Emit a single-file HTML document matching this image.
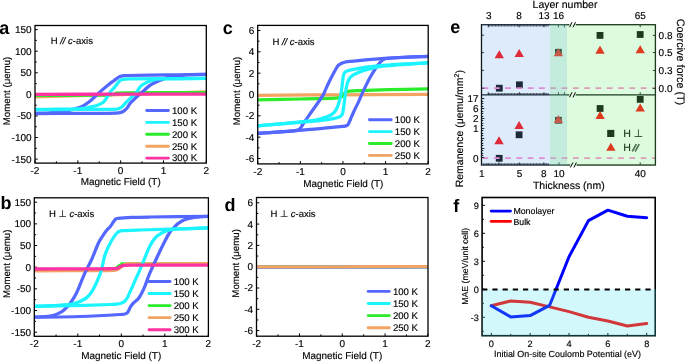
<!DOCTYPE html>
<html><head><meta charset="utf-8"><style>
html,body{margin:0;padding:0;background:#fff;width:685px;height:362px;overflow:hidden;}
svg{display:block;font-family:"Liberation Sans", sans-serif;text-rendering:geometricPrecision;will-change:transform;}
</style></head><body>
<svg width="685" height="362" viewBox="0 0 685 362" font-family='"Liberation Sans", sans-serif'>
<rect width="685" height="362" fill="#fff"/>
<clipPath id="clipa"><rect x="35" y="25.5" width="171.3" height="137.6"/></clipPath>
<line x1="35" y1="159.1" x2="37.8" y2="159.1" stroke="#000" stroke-width="1"/>
<line x1="35" y1="148.31" x2="36.8" y2="148.31" stroke="#000" stroke-width="1"/>
<line x1="35" y1="137.52" x2="37.8" y2="137.52" stroke="#000" stroke-width="1"/>
<line x1="35" y1="126.73" x2="36.8" y2="126.73" stroke="#000" stroke-width="1"/>
<line x1="35" y1="115.93" x2="37.8" y2="115.93" stroke="#000" stroke-width="1"/>
<line x1="35" y1="105.14" x2="36.8" y2="105.14" stroke="#000" stroke-width="1"/>
<line x1="35" y1="94.35" x2="37.8" y2="94.35" stroke="#000" stroke-width="1"/>
<line x1="35" y1="83.56" x2="36.8" y2="83.56" stroke="#000" stroke-width="1"/>
<line x1="35" y1="72.77" x2="37.8" y2="72.77" stroke="#000" stroke-width="1"/>
<line x1="35" y1="61.97" x2="36.8" y2="61.97" stroke="#000" stroke-width="1"/>
<line x1="35" y1="51.18" x2="37.8" y2="51.18" stroke="#000" stroke-width="1"/>
<line x1="35" y1="40.39" x2="36.8" y2="40.39" stroke="#000" stroke-width="1"/>
<line x1="35" y1="29.59" x2="37.8" y2="29.59" stroke="#000" stroke-width="1"/>
<line x1="34.99" y1="163.1" x2="34.99" y2="160.3" stroke="#000" stroke-width="1"/>
<line x1="56.41" y1="163.1" x2="56.41" y2="161.3" stroke="#000" stroke-width="1"/>
<line x1="77.82" y1="163.1" x2="77.82" y2="160.3" stroke="#000" stroke-width="1"/>
<line x1="99.24" y1="163.1" x2="99.24" y2="161.3" stroke="#000" stroke-width="1"/>
<line x1="120.65" y1="163.1" x2="120.65" y2="160.3" stroke="#000" stroke-width="1"/>
<line x1="142.06" y1="163.1" x2="142.06" y2="161.3" stroke="#000" stroke-width="1"/>
<line x1="163.48" y1="163.1" x2="163.48" y2="160.3" stroke="#000" stroke-width="1"/>
<line x1="184.9" y1="163.1" x2="184.9" y2="161.3" stroke="#000" stroke-width="1"/>
<line x1="206.31" y1="163.1" x2="206.31" y2="160.3" stroke="#000" stroke-width="1"/>
<g clip-path="url(#clipa)">
<path d="M34,96.8 C48.33,96.43 91.25,95.42 120,94.6 C148.75,93.78 192.08,92.35 206.5,91.9" fill="none" stroke="#f4a462" stroke-width="3.25" stroke-linejoin="round" stroke-linecap="round"/>
<path d="M34,95.4 C45,95.37 87.33,95.27 100,95.2 C112.67,95.13 107.67,95.15 110,95 C112.33,94.85 112.67,94.58 114,94.3 C115.33,94.02 116.33,93.53 118,93.3 C119.67,93.07 109.25,93.03 124,92.9 C138.75,92.77 192.75,92.57 206.5,92.5" fill="none" stroke="#2aec2a" stroke-width="3.25" stroke-linejoin="round" stroke-linecap="round"/>
<path d="M206.5,74.4 C202.08,74.47 189.42,74.67 180,74.8 C170.58,74.93 158.67,75.08 150,75.2 C141.33,75.32 132.5,75.4 128,75.5 C123.5,75.6 124.33,75.63 123,75.8 C121.67,75.97 121,76.08 120,76.5 C119,76.92 118.08,77.55 117,78.3 C115.92,79.05 114.67,80.12 113.5,81 C112.33,81.88 112.35,81.68 110,83.6 C107.65,85.52 102.7,89.6 99.4,92.5 C96.1,95.4 92.83,98.82 90.2,101 C87.57,103.18 85.57,104.47 83.6,105.6 C81.63,106.73 80.67,107.03 78.4,107.8 C76.13,108.57 73.07,109.52 70,110.2 C66.93,110.88 63.33,111.47 60,111.9 C56.67,112.33 54.33,112.57 50,112.8 C45.67,113.03 36.67,113.22 34,113.3" fill="none" stroke="#5467ff" stroke-width="3.25" stroke-linejoin="round" stroke-linecap="round"/>
<path d="M34,113.6 C38.33,113.58 49,113.55 60,113.5 C71,113.45 90.67,113.37 100,113.3 C109.33,113.23 112.58,113.23 116,113.1 C119.42,112.97 119.17,112.88 120.5,112.5 C121.83,112.12 122.83,111.63 124,110.8 C125.17,109.97 126.43,108.8 127.5,107.5 C128.57,106.2 128.98,104.67 130.4,103 C131.82,101.33 134.12,99.25 136,97.5 C137.88,95.75 139.38,94.52 141.7,92.5 C144.02,90.48 147.85,86.98 149.9,85.4 C151.95,83.82 152.65,83.7 154,83 C155.35,82.3 156.5,81.82 158,81.2 C159.5,80.58 161.33,80 163,79.3 C164.67,78.6 166,77.62 168,77 C170,76.38 172.17,75.93 175,75.6 C177.83,75.27 179.75,75.2 185,75 C190.25,74.8 202.92,74.5 206.5,74.4" fill="none" stroke="#5467ff" stroke-width="3.25" stroke-linejoin="round" stroke-linecap="round"/>
<path d="M206.5,78.3 C198.75,78.37 172.75,78.6 160,78.7 C147.25,78.8 135.92,78.83 130,78.9 C124.08,78.97 125.83,78.98 124.5,79.1 C123.17,79.22 122.75,79.35 122,79.6 C121.25,79.85 120.75,79.95 120,80.6 C119.25,81.25 118.58,82.18 117.5,83.5 C116.42,84.82 114.77,87 113.5,88.5 C112.23,90 111.38,90.42 109.9,92.5 C108.42,94.58 106.08,99.15 104.6,101 C103.12,102.85 102.08,102.93 101,103.6 C99.92,104.27 99.43,104.52 98.1,105 C96.77,105.48 94.68,106.07 93,106.5 C91.32,106.93 90.17,107.27 88,107.6 C85.83,107.93 84.67,108.23 80,108.5 C75.33,108.77 67.67,109.05 60,109.2 C52.33,109.35 38.33,109.37 34,109.4" fill="none" stroke="#1cf4ff" stroke-width="3.25" stroke-linejoin="round" stroke-linecap="round"/>
<path d="M34,109.7 C41.67,109.67 66.83,109.57 80,109.5 C93.17,109.43 106.75,109.38 113,109.3 C119.25,109.22 116.25,109.23 117.5,109 C118.75,108.77 119.58,108.43 120.5,107.9 C121.42,107.37 122.07,106.72 123,105.8 C123.93,104.88 124.77,103.77 126.1,102.4 C127.43,101.03 129.47,99 131,97.6 C132.53,96.2 133.73,95.85 135.3,94 C136.87,92.15 138.87,88.23 140.4,86.5 C141.93,84.77 143.13,84.43 144.5,83.6 C145.87,82.77 147.02,82.13 148.6,81.5 C150.18,80.87 151.93,80.23 154,79.8 C156.07,79.37 152.25,79.15 161,78.9 C169.75,78.65 198.92,78.4 206.5,78.3" fill="none" stroke="#1cf4ff" stroke-width="3.25" stroke-linejoin="round" stroke-linecap="round"/>
<path d="M34,94.3 C48.33,94.28 91.25,94.23 120,94.2 C148.75,94.17 192.08,94.12 206.5,94.1" fill="none" stroke="#fc33a0" stroke-width="3.3" stroke-linejoin="round" stroke-linecap="round"/>
</g>
<rect x="35" y="25.5" width="171.3" height="137.6" fill="none" stroke="#000" stroke-width="1.3"/>
<text x="31.6" y="162.55" font-size="10" text-anchor="end" stroke="#000" stroke-width="0.15" fill="#000">-150</text>
<text x="31.6" y="140.97" font-size="10" text-anchor="end" stroke="#000" stroke-width="0.15" fill="#000">-100</text>
<text x="31.6" y="119.38" font-size="10" text-anchor="end" stroke="#000" stroke-width="0.15" fill="#000">-50</text>
<text x="31.6" y="97.8" font-size="10" text-anchor="end" stroke="#000" stroke-width="0.15" fill="#000">0</text>
<text x="31.6" y="76.22" font-size="10" text-anchor="end" stroke="#000" stroke-width="0.15" fill="#000">50</text>
<text x="31.6" y="54.63" font-size="10" text-anchor="end" stroke="#000" stroke-width="0.15" fill="#000">100</text>
<text x="31.6" y="33.05" font-size="10" text-anchor="end" stroke="#000" stroke-width="0.15" fill="#000">150</text>
<text x="34.99" y="173.7" font-size="10" text-anchor="middle" stroke="#000" stroke-width="0.15" fill="#000">-2</text>
<text x="77.82" y="173.7" font-size="10" text-anchor="middle" stroke="#000" stroke-width="0.15" fill="#000">-1</text>
<text x="120.65" y="173.7" font-size="10" text-anchor="middle" stroke="#000" stroke-width="0.15" fill="#000">0</text>
<text x="163.48" y="173.7" font-size="10" text-anchor="middle" stroke="#000" stroke-width="0.15" fill="#000">1</text>
<text x="206.31" y="173.7" font-size="10" text-anchor="middle" stroke="#000" stroke-width="0.15" fill="#000">2</text>
<text x="120.7" y="185.2" font-size="9.95" text-anchor="middle" stroke="#000" stroke-width="0.15" fill="#000">Magnetic Field (T)</text>
<text x="10.2" y="91" font-size="9.7" text-anchor="middle" stroke="#000" stroke-width="0.15" transform="rotate(-90 10.2 91)" fill="#000">Moment (&#956;emu)</text>
<text x="-0.8" y="33.8" font-size="18" text-anchor="start" font-weight="bold" fill="#000">a</text>
<text x="50.7" y="43.8" font-size="9.5" text-anchor="start" stroke="#000" stroke-width="0.15" fill="#000">H <tspan font-style="italic">//</tspan> <tspan font-style="italic">c</tspan>-axis</text>
<line x1="146.7" y1="110.5" x2="168.4" y2="110.5" stroke="#5467ff" stroke-width="2.9" stroke-linecap="round"/>
<text x="172" y="113.8" font-size="9.6" text-anchor="start" stroke="#000" stroke-width="0.15" fill="#000">100 K</text>
<line x1="146.7" y1="122.4" x2="168.4" y2="122.4" stroke="#1cf4ff" stroke-width="2.9" stroke-linecap="round"/>
<text x="172" y="125.7" font-size="9.6" text-anchor="start" stroke="#000" stroke-width="0.15" fill="#000">150 K</text>
<line x1="146.7" y1="134.3" x2="168.4" y2="134.3" stroke="#2aec2a" stroke-width="2.9" stroke-linecap="round"/>
<text x="172" y="137.6" font-size="9.6" text-anchor="start" stroke="#000" stroke-width="0.15" fill="#000">200 K</text>
<line x1="146.7" y1="146.2" x2="168.4" y2="146.2" stroke="#f4a462" stroke-width="2.9" stroke-linecap="round"/>
<text x="172" y="149.5" font-size="9.6" text-anchor="start" stroke="#000" stroke-width="0.15" fill="#000">250 K</text>
<line x1="146.7" y1="158.1" x2="168.4" y2="158.1" stroke="#fc33a0" stroke-width="2.9" stroke-linecap="round"/>
<text x="172" y="161.4" font-size="9.6" text-anchor="start" stroke="#000" stroke-width="0.15" fill="#000">300 K</text>
<clipPath id="clipb"><rect x="34.3" y="197.8" width="174.1" height="138.5"/></clipPath>
<line x1="34.3" y1="332.19" x2="37.1" y2="332.19" stroke="#000" stroke-width="1"/>
<line x1="34.3" y1="321.36" x2="36.1" y2="321.36" stroke="#000" stroke-width="1"/>
<line x1="34.3" y1="310.53" x2="37.1" y2="310.53" stroke="#000" stroke-width="1"/>
<line x1="34.3" y1="299.7" x2="36.1" y2="299.7" stroke="#000" stroke-width="1"/>
<line x1="34.3" y1="288.87" x2="37.1" y2="288.87" stroke="#000" stroke-width="1"/>
<line x1="34.3" y1="278.03" x2="36.1" y2="278.03" stroke="#000" stroke-width="1"/>
<line x1="34.3" y1="267.2" x2="37.1" y2="267.2" stroke="#000" stroke-width="1"/>
<line x1="34.3" y1="256.37" x2="36.1" y2="256.37" stroke="#000" stroke-width="1"/>
<line x1="34.3" y1="245.53" x2="37.1" y2="245.53" stroke="#000" stroke-width="1"/>
<line x1="34.3" y1="234.7" x2="36.1" y2="234.7" stroke="#000" stroke-width="1"/>
<line x1="34.3" y1="223.87" x2="37.1" y2="223.87" stroke="#000" stroke-width="1"/>
<line x1="34.3" y1="213.04" x2="36.1" y2="213.04" stroke="#000" stroke-width="1"/>
<line x1="34.3" y1="202.2" x2="37.1" y2="202.2" stroke="#000" stroke-width="1"/>
<line x1="34.3" y1="336.3" x2="34.3" y2="333.5" stroke="#000" stroke-width="1"/>
<line x1="56.05" y1="336.3" x2="56.05" y2="334.5" stroke="#000" stroke-width="1"/>
<line x1="77.8" y1="336.3" x2="77.8" y2="333.5" stroke="#000" stroke-width="1"/>
<line x1="99.55" y1="336.3" x2="99.55" y2="334.5" stroke="#000" stroke-width="1"/>
<line x1="121.3" y1="336.3" x2="121.3" y2="333.5" stroke="#000" stroke-width="1"/>
<line x1="143.05" y1="336.3" x2="143.05" y2="334.5" stroke="#000" stroke-width="1"/>
<line x1="164.8" y1="336.3" x2="164.8" y2="333.5" stroke="#000" stroke-width="1"/>
<line x1="186.55" y1="336.3" x2="186.55" y2="334.5" stroke="#000" stroke-width="1"/>
<line x1="208.3" y1="336.3" x2="208.3" y2="333.5" stroke="#000" stroke-width="1"/>
<g clip-path="url(#clipb)">
<path d="M34,269.8 C45,269.77 87,269.67 100,269.6 C113,269.53 109.42,269.57 112,269.4 C114.58,269.23 114.25,269.27 115.5,268.6 C116.75,267.93 118.25,266.17 119.5,265.4 C120.75,264.63 121.25,264.27 123,264 C124.75,263.73 115.75,263.82 130,263.8 C144.25,263.78 195.42,263.88 208.5,263.9" fill="none" stroke="#2aec2a" stroke-width="3.25" stroke-linejoin="round" stroke-linecap="round"/>
<path d="M34,270.8 C45,270.77 86.67,270.68 100,270.6 C113.33,270.52 111,270.5 114,270.3 C117,270.1 116.67,270.05 118,269.4 C119.33,268.75 120.75,267.25 122,266.4 C123.25,265.55 123.33,264.72 125.5,264.3 C127.67,263.88 121.17,264 135,263.9 C148.83,263.8 196.25,263.73 208.5,263.7" fill="none" stroke="#f4a462" stroke-width="3.25" stroke-linejoin="round" stroke-linecap="round"/>
<path d="M208.5,216.3 C198.75,216.42 162.82,216.82 150,217 C137.18,217.18 136.93,217.18 131.6,217.4 C126.27,217.62 120.68,218 118,218.3 C115.32,218.6 116.33,218.5 115.5,219.2 C114.67,219.9 113.85,221.28 113,222.5 C112.15,223.72 111.52,225.13 110.4,226.5 C109.28,227.87 107.7,228.95 106.3,230.7 C104.9,232.45 103.38,234.78 102,237 C100.62,239.22 99.77,240.17 98,244 C96.23,247.83 93.62,255.12 91.4,260 C89.18,264.88 87.2,267.77 84.7,273.3 C82.2,278.83 78.85,288.17 76.4,293.2 C73.95,298.23 72.07,300.7 70,303.5 C67.93,306.3 65.97,308.32 64,310 C62.03,311.68 60.53,312.6 58.2,313.6 C55.87,314.6 54.03,315.4 50,316 C45.97,316.6 36.67,317 34,317.2" fill="none" stroke="#5467ff" stroke-width="3.25" stroke-linejoin="round" stroke-linecap="round"/>
<path d="M34,317.2 C41.67,317.08 65.67,316.95 80,316.5 C94.33,316.05 112.33,314.98 120,314.5 C127.67,314.02 124.62,314.12 126,313.6 C127.38,313.08 127.52,312.6 128.3,311.4 C129.08,310.2 129.75,307.88 130.7,306.4 C131.65,304.92 132.75,303.75 134,302.5 C135.25,301.25 136.95,300.4 138.2,298.9 C139.45,297.4 140.4,295.57 141.5,293.5 C142.6,291.43 143.42,289.88 144.8,286.5 C146.18,283.12 147.58,278.45 149.8,273.2 C152.02,267.95 155.62,260.28 158.1,255 C160.58,249.72 162.72,245.33 164.7,241.5 C166.68,237.67 168.45,234.33 170,232 C171.55,229.67 172.67,228.9 174,227.5 C175.33,226.1 176.67,224.68 178,223.6 C179.33,222.52 180.67,221.72 182,221 C183.33,220.28 184.33,219.83 186,219.3 C187.67,218.77 189.67,218.18 192,217.8 C194.33,217.42 197.25,217.25 200,217 C202.75,216.75 207.08,216.42 208.5,216.3" fill="none" stroke="#5467ff" stroke-width="3.25" stroke-linejoin="round" stroke-linecap="round"/>
<path d="M208.5,227.9 C202.08,228.12 181.42,228.85 170,229.2 C158.58,229.55 147.83,229.77 140,230 C132.17,230.23 126.42,230.38 123,230.6 C119.58,230.82 120.5,230.9 119.5,231.3 C118.5,231.7 118.1,231.8 117,233 C115.9,234.2 114.32,236.25 112.9,238.5 C111.48,240.75 109.88,243.58 108.5,246.5 C107.12,249.42 105.62,252.75 104.6,256 C103.58,259.25 103.2,262.85 102.4,266 C101.6,269.15 101.37,270.93 99.8,274.9 C98.23,278.87 94.88,286.32 93,289.8 C91.12,293.28 89.88,294.27 88.5,295.8 C87.12,297.33 86.45,297.92 84.7,299 C82.95,300.08 80.45,301.42 78,302.3 C75.55,303.18 74.4,303.75 70,304.3 C65.6,304.85 57.6,305.27 51.6,305.6 C45.6,305.93 36.93,306.18 34,306.3" fill="none" stroke="#1cf4ff" stroke-width="3.25" stroke-linejoin="round" stroke-linecap="round"/>
<path d="M34,306.3 C40.5,306.18 60.33,305.9 73,305.6 C85.67,305.3 102.67,304.75 110,304.5 C117.33,304.25 115.17,304.3 117,304.1 C118.83,303.9 119.75,303.73 121,303.3 C122.25,302.87 123.42,302.47 124.5,301.5 C125.58,300.53 126.58,299.08 127.5,297.5 C128.42,295.92 129.05,294.12 130,292 C130.95,289.88 131.55,288.48 133.2,284.8 C134.85,281.12 137.97,274.37 139.9,269.9 C141.83,265.43 143.45,261.32 144.8,258 C146.15,254.68 146.88,252.48 148,250 C149.12,247.52 150.17,245.27 151.5,243.1 C152.83,240.93 154.35,238.65 156,237 C157.65,235.35 159.12,234.38 161.4,233.2 C163.68,232.02 165.77,230.63 169.7,229.9 C173.63,229.17 178.53,229.13 185,228.8 C191.47,228.47 204.58,228.05 208.5,227.9" fill="none" stroke="#1cf4ff" stroke-width="3.25" stroke-linejoin="round" stroke-linecap="round"/>
<path d="M34,269 C45,268.97 86.67,268.85 100,268.8 C113.33,268.75 111.08,268.8 114,268.7 C116.92,268.6 116.33,268.6 117.5,268.2 C118.67,267.8 119.92,266.77 121,266.3 C122.08,265.83 121.67,265.58 124,265.4 C126.33,265.22 120.92,265.25 135,265.2 C149.08,265.15 196.25,265.12 208.5,265.1" fill="none" stroke="#fc33a0" stroke-width="3.3" stroke-linejoin="round" stroke-linecap="round"/>
</g>
<rect x="34.3" y="197.8" width="174.1" height="138.5" fill="none" stroke="#000" stroke-width="1.3"/>
<text x="31.1" y="335.64" font-size="10" text-anchor="end" stroke="#000" stroke-width="0.15" fill="#000">-150</text>
<text x="31.1" y="313.98" font-size="10" text-anchor="end" stroke="#000" stroke-width="0.15" fill="#000">-100</text>
<text x="31.1" y="292.31" font-size="10" text-anchor="end" stroke="#000" stroke-width="0.15" fill="#000">-50</text>
<text x="31.1" y="270.65" font-size="10" text-anchor="end" stroke="#000" stroke-width="0.15" fill="#000">0</text>
<text x="31.1" y="248.98" font-size="10" text-anchor="end" stroke="#000" stroke-width="0.15" fill="#000">50</text>
<text x="31.1" y="227.32" font-size="10" text-anchor="end" stroke="#000" stroke-width="0.15" fill="#000">100</text>
<text x="31.1" y="205.65" font-size="10" text-anchor="end" stroke="#000" stroke-width="0.15" fill="#000">150</text>
<text x="34.3" y="347" font-size="10" text-anchor="middle" stroke="#000" stroke-width="0.15" fill="#000">-2</text>
<text x="77.8" y="347" font-size="10" text-anchor="middle" stroke="#000" stroke-width="0.15" fill="#000">-1</text>
<text x="121.3" y="347" font-size="10" text-anchor="middle" stroke="#000" stroke-width="0.15" fill="#000">0</text>
<text x="164.8" y="347" font-size="10" text-anchor="middle" stroke="#000" stroke-width="0.15" fill="#000">1</text>
<text x="208.3" y="347" font-size="10" text-anchor="middle" stroke="#000" stroke-width="0.15" fill="#000">2</text>
<text x="121.2" y="359" font-size="9.95" text-anchor="middle" stroke="#000" stroke-width="0.15" fill="#000">Magnetic Field (T)</text>
<text x="10" y="263.8" font-size="9.7" text-anchor="middle" stroke="#000" stroke-width="0.15" transform="rotate(-90 10 263.8)" fill="#000">Moment (&#956;emu)</text>
<text x="0.5" y="208.8" font-size="18" text-anchor="start" font-weight="bold" fill="#000">b</text>
<text x="49" y="216.9" font-size="9.5" text-anchor="start" stroke="#000" stroke-width="0.15" fill="#000">H &#8869; <tspan font-style="italic">c</tspan>-axis</text>
<line x1="149" y1="281.5" x2="170.1" y2="281.5" stroke="#5467ff" stroke-width="2.9" stroke-linecap="round"/>
<text x="173.7" y="284.8" font-size="9.6" text-anchor="start" stroke="#000" stroke-width="0.15" fill="#000">100 K</text>
<line x1="149" y1="293.55" x2="170.1" y2="293.55" stroke="#1cf4ff" stroke-width="2.9" stroke-linecap="round"/>
<text x="173.7" y="296.85" font-size="9.6" text-anchor="start" stroke="#000" stroke-width="0.15" fill="#000">150 K</text>
<line x1="149" y1="305.6" x2="170.1" y2="305.6" stroke="#2aec2a" stroke-width="2.9" stroke-linecap="round"/>
<text x="173.7" y="308.9" font-size="9.6" text-anchor="start" stroke="#000" stroke-width="0.15" fill="#000">200 K</text>
<line x1="149" y1="317.65" x2="170.1" y2="317.65" stroke="#f4a462" stroke-width="2.9" stroke-linecap="round"/>
<text x="173.7" y="320.95" font-size="9.6" text-anchor="start" stroke="#000" stroke-width="0.15" fill="#000">250 K</text>
<line x1="149" y1="329.7" x2="170.1" y2="329.7" stroke="#fc33a0" stroke-width="2.9" stroke-linecap="round"/>
<text x="173.7" y="333" font-size="9.6" text-anchor="start" stroke="#000" stroke-width="0.15" fill="#000">300 K</text>
<clipPath id="clipc"><rect x="257.7" y="25.4" width="170.5" height="138.5"/></clipPath>
<line x1="257.7" y1="158.5" x2="260.5" y2="158.5" stroke="#000" stroke-width="1"/>
<line x1="257.7" y1="147.84" x2="259.5" y2="147.84" stroke="#000" stroke-width="1"/>
<line x1="257.7" y1="137.17" x2="260.5" y2="137.17" stroke="#000" stroke-width="1"/>
<line x1="257.7" y1="126.5" x2="259.5" y2="126.5" stroke="#000" stroke-width="1"/>
<line x1="257.7" y1="115.83" x2="260.5" y2="115.83" stroke="#000" stroke-width="1"/>
<line x1="257.7" y1="105.17" x2="259.5" y2="105.17" stroke="#000" stroke-width="1"/>
<line x1="257.7" y1="94.5" x2="260.5" y2="94.5" stroke="#000" stroke-width="1"/>
<line x1="257.7" y1="83.83" x2="259.5" y2="83.83" stroke="#000" stroke-width="1"/>
<line x1="257.7" y1="73.17" x2="260.5" y2="73.17" stroke="#000" stroke-width="1"/>
<line x1="257.7" y1="62.5" x2="259.5" y2="62.5" stroke="#000" stroke-width="1"/>
<line x1="257.7" y1="51.83" x2="260.5" y2="51.83" stroke="#000" stroke-width="1"/>
<line x1="257.7" y1="41.16" x2="259.5" y2="41.16" stroke="#000" stroke-width="1"/>
<line x1="257.7" y1="30.5" x2="260.5" y2="30.5" stroke="#000" stroke-width="1"/>
<line x1="257.75" y1="163.9" x2="257.75" y2="161.1" stroke="#000" stroke-width="1"/>
<line x1="279.05" y1="163.9" x2="279.05" y2="162.1" stroke="#000" stroke-width="1"/>
<line x1="300.35" y1="163.9" x2="300.35" y2="161.1" stroke="#000" stroke-width="1"/>
<line x1="321.65" y1="163.9" x2="321.65" y2="162.1" stroke="#000" stroke-width="1"/>
<line x1="342.95" y1="163.9" x2="342.95" y2="161.1" stroke="#000" stroke-width="1"/>
<line x1="364.25" y1="163.9" x2="364.25" y2="162.1" stroke="#000" stroke-width="1"/>
<line x1="385.55" y1="163.9" x2="385.55" y2="161.1" stroke="#000" stroke-width="1"/>
<line x1="406.85" y1="163.9" x2="406.85" y2="162.1" stroke="#000" stroke-width="1"/>
<line x1="428.15" y1="163.9" x2="428.15" y2="161.1" stroke="#000" stroke-width="1"/>
<g clip-path="url(#clipc)">
<path d="M257,95.3 C271.17,95.22 313.42,94.95 342,94.8 C370.58,94.65 414.08,94.47 428.5,94.4" fill="none" stroke="#f4a462" stroke-width="3.25" stroke-linejoin="round" stroke-linecap="round"/>
<path d="M257,99.8 C264.17,99.67 287.33,99.25 300,99 C312.67,98.75 326.42,98.53 333,98.3 C339.58,98.07 337.92,97.93 339.5,97.6 C341.08,97.27 341.62,97.07 342.5,96.3 C343.38,95.53 343.88,93.83 344.8,93 C345.72,92.17 345.47,91.7 348,91.3 C350.53,90.9 353,90.87 360,90.6 C367,90.33 378.58,90 390,89.7 C401.42,89.4 422.08,88.95 428.5,88.8" fill="none" stroke="#2aec2a" stroke-width="3.25" stroke-linejoin="round" stroke-linecap="round"/>
<path d="M428.5,56.3 C421.2,56.63 397.78,57.45 384.7,58.3 C371.62,59.15 356.62,60.75 350,61.4 C343.38,62.05 346.38,61.9 345,62.2 C343.62,62.5 342.83,62.65 341.7,63.2 C340.57,63.75 339.17,64.53 338.2,65.5 C337.23,66.47 336.87,67.35 335.9,69 C334.93,70.65 333.57,73.18 332.4,75.4 C331.23,77.62 329.97,80.08 328.9,82.3 C327.83,84.52 326.87,86.77 326,88.7 C325.13,90.63 324.62,92.18 323.7,93.9 C322.78,95.62 321.78,97.07 320.5,99 C319.22,100.93 317.58,103.25 316,105.5 C314.42,107.75 312.67,110.13 311,112.5 C309.33,114.87 307.42,117.62 306,119.7 C304.58,121.78 303.42,123.62 302.5,125 C301.58,126.38 301.17,127.2 300.5,128 C299.83,128.8 299.58,129.33 298.5,129.8 C297.42,130.27 297.08,130.45 294,130.8 C290.92,131.15 286.17,131.48 280,131.9 C273.83,132.32 260.83,133.07 257,133.3" fill="none" stroke="#5467ff" stroke-width="3.25" stroke-linejoin="round" stroke-linecap="round"/>
<path d="M257,133.3 C262.5,132.93 279.5,131.88 290,131.1 C300.5,130.32 311.17,129.38 320,128.6 C328.83,127.82 338.67,126.87 343,126.4 C347.33,125.93 345.13,126.15 346,125.8 C346.87,125.45 347.43,125.43 348.2,124.3 C348.97,123.17 349.58,121.3 350.6,119 C351.62,116.7 353.02,113.27 354.3,110.5 C355.58,107.73 357.05,105.1 358.3,102.4 C359.55,99.7 360.53,97.1 361.8,94.3 C363.07,91.5 364.62,88.23 365.9,85.6 C367.18,82.97 368.32,80.68 369.5,78.5 C370.68,76.32 371.83,74.42 373,72.5 C374.17,70.58 375.33,68.67 376.5,67 C377.67,65.33 378.92,63.7 380,62.5 C381.08,61.3 381.83,60.47 383,59.8 C384.17,59.13 384.17,58.88 387,58.5 C389.83,58.12 393.08,57.87 400,57.5 C406.92,57.13 423.75,56.5 428.5,56.3" fill="none" stroke="#5467ff" stroke-width="3.25" stroke-linejoin="round" stroke-linecap="round"/>
<path d="M428.5,62.7 C423.13,62.97 405.22,63.72 396.3,64.3 C387.38,64.88 380.52,65.65 375,66.2 C369.48,66.75 367.2,66.98 363.2,67.6 C359.2,68.22 353.7,69.33 351,69.9 C348.3,70.47 348.08,70.52 347,71 C345.92,71.48 345.13,71.88 344.5,72.8 C343.87,73.72 343.57,74.63 343.2,76.5 C342.83,78.37 342.63,81.25 342.3,84 C341.97,86.75 341.65,90.27 341.2,93 C340.75,95.73 340.27,97.98 339.6,100.4 C338.93,102.82 338.1,105.52 337.2,107.5 C336.3,109.48 335.4,110.97 334.2,112.3 C333,113.63 331.87,114.55 330,115.5 C328.13,116.45 326.33,117.12 323,118 C319.67,118.88 321,119.48 310,120.8 C299,122.12 265.83,125.05 257,125.9" fill="none" stroke="#1cf4ff" stroke-width="3.25" stroke-linejoin="round" stroke-linecap="round"/>
<path d="M257,125.9 C265.65,125.18 296.67,122.72 308.9,121.6 C321.13,120.48 325.72,119.83 330.4,119.2 C335.08,118.57 335.32,118.28 337,117.8 C338.68,117.32 339.57,117.02 340.5,116.3 C341.43,115.58 342.05,115.22 342.6,113.5 C343.15,111.78 343.43,108.48 343.8,106 C344.17,103.52 344.43,101.35 344.8,98.6 C345.17,95.85 345.58,92.02 346,89.5 C346.42,86.98 346.72,85.35 347.3,83.5 C347.88,81.65 348.72,79.68 349.5,78.4 C350.28,77.12 351.08,76.53 352,75.8 C352.92,75.07 353.13,74.87 355,74 C356.87,73.13 360.18,71.58 363.2,70.6 C366.22,69.62 369.47,68.87 373.1,68.1 C376.73,67.33 375.77,66.88 385,66 C394.23,65.12 421.25,63.33 428.5,62.8" fill="none" stroke="#1cf4ff" stroke-width="3.25" stroke-linejoin="round" stroke-linecap="round"/>
</g>
<rect x="257.7" y="25.4" width="170.5" height="138.5" fill="none" stroke="#000" stroke-width="1.3"/>
<text x="254.4" y="161.95" font-size="10" text-anchor="end" stroke="#000" stroke-width="0.15" fill="#000">-6</text>
<text x="254.4" y="140.62" font-size="10" text-anchor="end" stroke="#000" stroke-width="0.15" fill="#000">-4</text>
<text x="254.4" y="119.28" font-size="10" text-anchor="end" stroke="#000" stroke-width="0.15" fill="#000">-2</text>
<text x="254.4" y="97.95" font-size="10" text-anchor="end" stroke="#000" stroke-width="0.15" fill="#000">0</text>
<text x="254.4" y="76.62" font-size="10" text-anchor="end" stroke="#000" stroke-width="0.15" fill="#000">2</text>
<text x="254.4" y="55.28" font-size="10" text-anchor="end" stroke="#000" stroke-width="0.15" fill="#000">4</text>
<text x="254.4" y="33.95" font-size="10" text-anchor="end" stroke="#000" stroke-width="0.15" fill="#000">6</text>
<text x="257.75" y="174.5" font-size="10" text-anchor="middle" stroke="#000" stroke-width="0.15" fill="#000">-2</text>
<text x="300.35" y="174.5" font-size="10" text-anchor="middle" stroke="#000" stroke-width="0.15" fill="#000">-1</text>
<text x="342.95" y="174.5" font-size="10" text-anchor="middle" stroke="#000" stroke-width="0.15" fill="#000">0</text>
<text x="385.55" y="174.5" font-size="10" text-anchor="middle" stroke="#000" stroke-width="0.15" fill="#000">1</text>
<text x="428.15" y="174.5" font-size="10" text-anchor="middle" stroke="#000" stroke-width="0.15" fill="#000">2</text>
<text x="343.3" y="186.8" font-size="9.95" text-anchor="middle" stroke="#000" stroke-width="0.15" fill="#000">Magnetic Field (T)</text>
<text x="239.7" y="91" font-size="9.7" text-anchor="middle" stroke="#000" stroke-width="0.15" transform="rotate(-90 239.7 91)" fill="#000">Moment (&#956;emu)</text>
<text x="222.8" y="34" font-size="18" text-anchor="start" font-weight="bold" fill="#000">c</text>
<text x="272.4" y="44.9" font-size="9.5" text-anchor="start" stroke="#000" stroke-width="0.15" fill="#000">H <tspan font-style="italic">//</tspan> <tspan font-style="italic">c</tspan>-axis</text>
<line x1="369.4" y1="119.7" x2="391.2" y2="119.7" stroke="#5467ff" stroke-width="2.9" stroke-linecap="round"/>
<text x="394.8" y="123" font-size="9.6" text-anchor="start" stroke="#000" stroke-width="0.15" fill="#000">100 K</text>
<line x1="369.4" y1="131.6" x2="391.2" y2="131.6" stroke="#1cf4ff" stroke-width="2.9" stroke-linecap="round"/>
<text x="394.8" y="134.9" font-size="9.6" text-anchor="start" stroke="#000" stroke-width="0.15" fill="#000">150 K</text>
<line x1="369.4" y1="143.5" x2="391.2" y2="143.5" stroke="#2aec2a" stroke-width="2.9" stroke-linecap="round"/>
<text x="394.8" y="146.8" font-size="9.6" text-anchor="start" stroke="#000" stroke-width="0.15" fill="#000">200 K</text>
<line x1="369.4" y1="155.4" x2="391.2" y2="155.4" stroke="#f4a462" stroke-width="2.9" stroke-linecap="round"/>
<text x="394.8" y="158.7" font-size="9.6" text-anchor="start" stroke="#000" stroke-width="0.15" fill="#000">250 K</text>
<clipPath id="clipd"><rect x="256.5" y="197.5" width="171.5" height="138.7"/></clipPath>
<line x1="256.5" y1="330.6" x2="259.3" y2="330.6" stroke="#000" stroke-width="1"/>
<line x1="256.5" y1="319.95" x2="258.3" y2="319.95" stroke="#000" stroke-width="1"/>
<line x1="256.5" y1="309.3" x2="259.3" y2="309.3" stroke="#000" stroke-width="1"/>
<line x1="256.5" y1="298.65" x2="258.3" y2="298.65" stroke="#000" stroke-width="1"/>
<line x1="256.5" y1="288" x2="259.3" y2="288" stroke="#000" stroke-width="1"/>
<line x1="256.5" y1="277.35" x2="258.3" y2="277.35" stroke="#000" stroke-width="1"/>
<line x1="256.5" y1="266.7" x2="259.3" y2="266.7" stroke="#000" stroke-width="1"/>
<line x1="256.5" y1="256.05" x2="258.3" y2="256.05" stroke="#000" stroke-width="1"/>
<line x1="256.5" y1="245.4" x2="259.3" y2="245.4" stroke="#000" stroke-width="1"/>
<line x1="256.5" y1="234.75" x2="258.3" y2="234.75" stroke="#000" stroke-width="1"/>
<line x1="256.5" y1="224.1" x2="259.3" y2="224.1" stroke="#000" stroke-width="1"/>
<line x1="256.5" y1="213.45" x2="258.3" y2="213.45" stroke="#000" stroke-width="1"/>
<line x1="256.5" y1="202.8" x2="259.3" y2="202.8" stroke="#000" stroke-width="1"/>
<line x1="256.65" y1="336.2" x2="256.65" y2="333.4" stroke="#000" stroke-width="1"/>
<line x1="278.05" y1="336.2" x2="278.05" y2="334.4" stroke="#000" stroke-width="1"/>
<line x1="299.45" y1="336.2" x2="299.45" y2="333.4" stroke="#000" stroke-width="1"/>
<line x1="320.85" y1="336.2" x2="320.85" y2="334.4" stroke="#000" stroke-width="1"/>
<line x1="342.25" y1="336.2" x2="342.25" y2="333.4" stroke="#000" stroke-width="1"/>
<line x1="363.65" y1="336.2" x2="363.65" y2="334.4" stroke="#000" stroke-width="1"/>
<line x1="385.05" y1="336.2" x2="385.05" y2="333.4" stroke="#000" stroke-width="1"/>
<line x1="406.45" y1="336.2" x2="406.45" y2="334.4" stroke="#000" stroke-width="1"/>
<line x1="427.85" y1="336.2" x2="427.85" y2="333.4" stroke="#000" stroke-width="1"/>
<g clip-path="url(#clipd)">
<path d="M256,266.9 L428.5,266.7" fill="none" stroke="#2aec2a" stroke-width="3.25" stroke-linejoin="round" stroke-linecap="round"/>
<path d="M256,267.1 L428.5,266.9" fill="none" stroke="#1cf4ff" stroke-width="3.25" stroke-linejoin="round" stroke-linecap="round"/>
<path d="M256,267.1 L428.5,266.9" fill="none" stroke="#5467ff" stroke-width="3.25" stroke-linejoin="round" stroke-linecap="round"/>
<path d="M256,266.8 C270,266.8 311.25,266.83 340,266.8 C368.75,266.77 413.75,266.63 428.5,266.6" fill="none" stroke="#f4a462" stroke-width="3.25" stroke-linejoin="round" stroke-linecap="round"/>
</g>
<rect x="256.5" y="197.5" width="171.5" height="138.7" fill="none" stroke="#000" stroke-width="1.3"/>
<text x="253.1" y="334.05" font-size="10" text-anchor="end" stroke="#000" stroke-width="0.15" fill="#000">-6</text>
<text x="253.1" y="312.75" font-size="10" text-anchor="end" stroke="#000" stroke-width="0.15" fill="#000">-4</text>
<text x="253.1" y="291.45" font-size="10" text-anchor="end" stroke="#000" stroke-width="0.15" fill="#000">-2</text>
<text x="253.1" y="270.15" font-size="10" text-anchor="end" stroke="#000" stroke-width="0.15" fill="#000">0</text>
<text x="253.1" y="248.85" font-size="10" text-anchor="end" stroke="#000" stroke-width="0.15" fill="#000">2</text>
<text x="253.1" y="227.55" font-size="10" text-anchor="end" stroke="#000" stroke-width="0.15" fill="#000">4</text>
<text x="253.1" y="206.25" font-size="10" text-anchor="end" stroke="#000" stroke-width="0.15" fill="#000">6</text>
<text x="256.65" y="346.8" font-size="10" text-anchor="middle" stroke="#000" stroke-width="0.15" fill="#000">-2</text>
<text x="299.45" y="346.8" font-size="10" text-anchor="middle" stroke="#000" stroke-width="0.15" fill="#000">-1</text>
<text x="342.25" y="346.8" font-size="10" text-anchor="middle" stroke="#000" stroke-width="0.15" fill="#000">0</text>
<text x="385.05" y="346.8" font-size="10" text-anchor="middle" stroke="#000" stroke-width="0.15" fill="#000">1</text>
<text x="427.85" y="346.8" font-size="10" text-anchor="middle" stroke="#000" stroke-width="0.15" fill="#000">2</text>
<text x="342.2" y="359" font-size="9.95" text-anchor="middle" stroke="#000" stroke-width="0.15" fill="#000">Magnetic Field (T)</text>
<text x="239.2" y="263.4" font-size="9.7" text-anchor="middle" stroke="#000" stroke-width="0.15" transform="rotate(-90 239.2 263.4)" fill="#000">Moment (&#956;emu)</text>
<text x="224.4" y="211.1" font-size="18" text-anchor="start" font-weight="bold" fill="#000">d</text>
<text x="270.4" y="216.9" font-size="9.5" text-anchor="start" stroke="#000" stroke-width="0.15" fill="#000">H &#8869; <tspan font-style="italic">c</tspan>-axis</text>
<line x1="368.2" y1="291.4" x2="389.3" y2="291.4" stroke="#5467ff" stroke-width="2.9" stroke-linecap="round"/>
<text x="392.9" y="294.7" font-size="9.6" text-anchor="start" stroke="#000" stroke-width="0.15" fill="#000">100 K</text>
<line x1="368.2" y1="303.5" x2="389.3" y2="303.5" stroke="#1cf4ff" stroke-width="2.9" stroke-linecap="round"/>
<text x="392.9" y="306.8" font-size="9.6" text-anchor="start" stroke="#000" stroke-width="0.15" fill="#000">150 K</text>
<line x1="368.2" y1="315.6" x2="389.3" y2="315.6" stroke="#2aec2a" stroke-width="2.9" stroke-linecap="round"/>
<text x="392.9" y="318.9" font-size="9.6" text-anchor="start" stroke="#000" stroke-width="0.15" fill="#000">200 K</text>
<line x1="368.2" y1="327.7" x2="389.3" y2="327.7" stroke="#f4a462" stroke-width="2.9" stroke-linecap="round"/>
<text x="392.9" y="331" font-size="9.6" text-anchor="start" stroke="#000" stroke-width="0.15" fill="#000">250 K</text>
<rect x="495.9" y="84.8" width="6.8" height="6.8" fill="#000" stroke="none" stroke-width="1"/>
<rect x="516" y="81.4" width="6.8" height="6.8" fill="#000" stroke="none" stroke-width="1"/>
<rect x="555" y="48.9" width="6.8" height="6.8" fill="#000" stroke="none" stroke-width="1"/>
<rect x="596.6" y="32" width="6.8" height="6.8" fill="#000" stroke="none" stroke-width="1"/>
<rect x="636.8" y="31.1" width="6.8" height="6.8" fill="#000" stroke="none" stroke-width="1"/>
<polygon points="499.3,50.2 494.6,58.2 504,58.2" fill="#ff0000"/>
<polygon points="519.2,49.1 514.5,57.1 523.9,57.1" fill="#ff0000"/>
<polygon points="558.4,48.3 553.7,56.3 563.1,56.3" fill="#ff0000"/>
<polygon points="600,45.7 595.3,53.7 604.7,53.7" fill="#ff0000"/>
<polygon points="640.2,45.2 635.5,53.2 644.9,53.2" fill="#ff0000"/>
<rect x="495.8" y="154.9" width="6.8" height="6.8" fill="#000" stroke="none" stroke-width="1"/>
<rect x="515.7" y="131.4" width="6.8" height="6.8" fill="#000" stroke="none" stroke-width="1"/>
<rect x="555" y="116.9" width="6.8" height="6.8" fill="#000" stroke="none" stroke-width="1"/>
<rect x="596.7" y="105.1" width="6.8" height="6.8" fill="#000" stroke="none" stroke-width="1"/>
<rect x="636.8" y="95.95" width="6.8" height="6.8" fill="#000" stroke="none" stroke-width="1"/>
<polygon points="499,136.3 494.3,144.3 503.7,144.3" fill="#ff0000"/>
<polygon points="519.1,121.1 514.4,129.1 523.8,129.1" fill="#ff0000"/>
<polygon points="558.4,115.1 553.7,123.1 563.1,123.1" fill="#ff0000"/>
<polygon points="600.1,110.9 595.4,118.9 604.8,118.9" fill="#ff0000"/>
<polygon points="640.2,103.6 635.5,111.6 644.9,111.6" fill="#ff0000"/>
<line x1="482.5" y1="88.2" x2="655.4" y2="88.2" stroke="rgb(255,130,208)" stroke-width="1.75" stroke-dasharray="5.8 5.5"/>
<line x1="482.5" y1="158.1" x2="655.4" y2="158.1" stroke="rgb(255,130,208)" stroke-width="1.75" stroke-dasharray="5.8 5.5"/>
<rect x="481.5" y="24.7" width="173.9" height="140.3" fill="none" stroke="#000" stroke-width="1.3"/>
<line x1="481.5" y1="94.8" x2="655.4" y2="94.8" stroke="#000" stroke-width="1.3"/>
<line x1="488.3" y1="24.7" x2="488.3" y2="26.5" stroke="#000" stroke-width="0.8"/>
<line x1="488.3" y1="94.8" x2="488.3" y2="93" stroke="#000" stroke-width="0.8"/>
<line x1="488.3" y1="165" x2="488.3" y2="163.2" stroke="#000" stroke-width="0.8"/>
<line x1="489.76" y1="24.7" x2="489.76" y2="26.5" stroke="#000" stroke-width="0.8"/>
<line x1="489.76" y1="94.8" x2="489.76" y2="93" stroke="#000" stroke-width="0.8"/>
<line x1="489.76" y1="165" x2="489.76" y2="163.2" stroke="#000" stroke-width="0.8"/>
<line x1="491.22" y1="24.7" x2="491.22" y2="26.5" stroke="#000" stroke-width="0.8"/>
<line x1="491.22" y1="94.8" x2="491.22" y2="93" stroke="#000" stroke-width="0.8"/>
<line x1="491.22" y1="165" x2="491.22" y2="163.2" stroke="#000" stroke-width="0.8"/>
<line x1="492.68" y1="24.7" x2="492.68" y2="26.5" stroke="#000" stroke-width="0.8"/>
<line x1="492.68" y1="94.8" x2="492.68" y2="93" stroke="#000" stroke-width="0.8"/>
<line x1="492.68" y1="165" x2="492.68" y2="163.2" stroke="#000" stroke-width="0.8"/>
<line x1="494.14" y1="24.7" x2="494.14" y2="26.5" stroke="#000" stroke-width="0.8"/>
<line x1="494.14" y1="94.8" x2="494.14" y2="93" stroke="#000" stroke-width="0.8"/>
<line x1="494.14" y1="165" x2="494.14" y2="163.2" stroke="#000" stroke-width="0.8"/>
<line x1="495.6" y1="24.7" x2="495.6" y2="26.5" stroke="#000" stroke-width="0.8"/>
<line x1="495.6" y1="94.8" x2="495.6" y2="93" stroke="#000" stroke-width="0.8"/>
<line x1="495.6" y1="165" x2="495.6" y2="163.2" stroke="#000" stroke-width="0.8"/>
<line x1="497.06" y1="24.7" x2="497.06" y2="26.5" stroke="#000" stroke-width="0.8"/>
<line x1="497.06" y1="94.8" x2="497.06" y2="93" stroke="#000" stroke-width="0.8"/>
<line x1="497.06" y1="165" x2="497.06" y2="163.2" stroke="#000" stroke-width="0.8"/>
<line x1="498.52" y1="24.7" x2="498.52" y2="26.5" stroke="#000" stroke-width="0.8"/>
<line x1="498.52" y1="94.8" x2="498.52" y2="93" stroke="#000" stroke-width="0.8"/>
<line x1="498.52" y1="165" x2="498.52" y2="163.2" stroke="#000" stroke-width="0.8"/>
<line x1="499.98" y1="24.7" x2="499.98" y2="26.5" stroke="#000" stroke-width="0.8"/>
<line x1="499.98" y1="94.8" x2="499.98" y2="93" stroke="#000" stroke-width="0.8"/>
<line x1="499.98" y1="165" x2="499.98" y2="163.2" stroke="#000" stroke-width="0.8"/>
<line x1="501.44" y1="24.7" x2="501.44" y2="26.5" stroke="#000" stroke-width="0.8"/>
<line x1="501.44" y1="94.8" x2="501.44" y2="93" stroke="#000" stroke-width="0.8"/>
<line x1="501.44" y1="165" x2="501.44" y2="163.2" stroke="#000" stroke-width="0.8"/>
<line x1="502.9" y1="24.7" x2="502.9" y2="26.5" stroke="#000" stroke-width="0.8"/>
<line x1="502.9" y1="94.8" x2="502.9" y2="93" stroke="#000" stroke-width="0.8"/>
<line x1="502.9" y1="165" x2="502.9" y2="163.2" stroke="#000" stroke-width="0.8"/>
<line x1="504.36" y1="24.7" x2="504.36" y2="26.5" stroke="#000" stroke-width="0.8"/>
<line x1="504.36" y1="94.8" x2="504.36" y2="93" stroke="#000" stroke-width="0.8"/>
<line x1="504.36" y1="165" x2="504.36" y2="163.2" stroke="#000" stroke-width="0.8"/>
<line x1="505.82" y1="24.7" x2="505.82" y2="26.5" stroke="#000" stroke-width="0.8"/>
<line x1="505.82" y1="94.8" x2="505.82" y2="93" stroke="#000" stroke-width="0.8"/>
<line x1="505.82" y1="165" x2="505.82" y2="163.2" stroke="#000" stroke-width="0.8"/>
<line x1="507.28" y1="24.7" x2="507.28" y2="26.5" stroke="#000" stroke-width="0.8"/>
<line x1="507.28" y1="94.8" x2="507.28" y2="93" stroke="#000" stroke-width="0.8"/>
<line x1="507.28" y1="165" x2="507.28" y2="163.2" stroke="#000" stroke-width="0.8"/>
<line x1="508.74" y1="24.7" x2="508.74" y2="26.5" stroke="#000" stroke-width="0.8"/>
<line x1="508.74" y1="94.8" x2="508.74" y2="93" stroke="#000" stroke-width="0.8"/>
<line x1="508.74" y1="165" x2="508.74" y2="163.2" stroke="#000" stroke-width="0.8"/>
<line x1="510.2" y1="24.7" x2="510.2" y2="26.5" stroke="#000" stroke-width="0.8"/>
<line x1="510.2" y1="94.8" x2="510.2" y2="93" stroke="#000" stroke-width="0.8"/>
<line x1="510.2" y1="165" x2="510.2" y2="163.2" stroke="#000" stroke-width="0.8"/>
<line x1="511.66" y1="24.7" x2="511.66" y2="26.5" stroke="#000" stroke-width="0.8"/>
<line x1="511.66" y1="94.8" x2="511.66" y2="93" stroke="#000" stroke-width="0.8"/>
<line x1="511.66" y1="165" x2="511.66" y2="163.2" stroke="#000" stroke-width="0.8"/>
<line x1="513.12" y1="24.7" x2="513.12" y2="26.5" stroke="#000" stroke-width="0.8"/>
<line x1="513.12" y1="94.8" x2="513.12" y2="93" stroke="#000" stroke-width="0.8"/>
<line x1="513.12" y1="165" x2="513.12" y2="163.2" stroke="#000" stroke-width="0.8"/>
<line x1="514.58" y1="24.7" x2="514.58" y2="26.5" stroke="#000" stroke-width="0.8"/>
<line x1="514.58" y1="94.8" x2="514.58" y2="93" stroke="#000" stroke-width="0.8"/>
<line x1="514.58" y1="165" x2="514.58" y2="163.2" stroke="#000" stroke-width="0.8"/>
<line x1="516.04" y1="24.7" x2="516.04" y2="26.5" stroke="#000" stroke-width="0.8"/>
<line x1="516.04" y1="94.8" x2="516.04" y2="93" stroke="#000" stroke-width="0.8"/>
<line x1="516.04" y1="165" x2="516.04" y2="163.2" stroke="#000" stroke-width="0.8"/>
<line x1="517.5" y1="24.7" x2="517.5" y2="26.5" stroke="#000" stroke-width="0.8"/>
<line x1="517.5" y1="94.8" x2="517.5" y2="93" stroke="#000" stroke-width="0.8"/>
<line x1="517.5" y1="165" x2="517.5" y2="163.2" stroke="#000" stroke-width="0.8"/>
<line x1="518.96" y1="24.7" x2="518.96" y2="26.5" stroke="#000" stroke-width="0.8"/>
<line x1="518.96" y1="94.8" x2="518.96" y2="93" stroke="#000" stroke-width="0.8"/>
<line x1="518.96" y1="165" x2="518.96" y2="163.2" stroke="#000" stroke-width="0.8"/>
<line x1="520.42" y1="24.7" x2="520.42" y2="26.5" stroke="#000" stroke-width="0.8"/>
<line x1="520.42" y1="94.8" x2="520.42" y2="93" stroke="#000" stroke-width="0.8"/>
<line x1="520.42" y1="165" x2="520.42" y2="163.2" stroke="#000" stroke-width="0.8"/>
<line x1="521.88" y1="24.7" x2="521.88" y2="26.5" stroke="#000" stroke-width="0.8"/>
<line x1="521.88" y1="94.8" x2="521.88" y2="93" stroke="#000" stroke-width="0.8"/>
<line x1="521.88" y1="165" x2="521.88" y2="163.2" stroke="#000" stroke-width="0.8"/>
<line x1="523.34" y1="24.7" x2="523.34" y2="26.5" stroke="#000" stroke-width="0.8"/>
<line x1="523.34" y1="94.8" x2="523.34" y2="93" stroke="#000" stroke-width="0.8"/>
<line x1="523.34" y1="165" x2="523.34" y2="163.2" stroke="#000" stroke-width="0.8"/>
<line x1="524.8" y1="24.7" x2="524.8" y2="26.5" stroke="#000" stroke-width="0.8"/>
<line x1="524.8" y1="94.8" x2="524.8" y2="93" stroke="#000" stroke-width="0.8"/>
<line x1="524.8" y1="165" x2="524.8" y2="163.2" stroke="#000" stroke-width="0.8"/>
<line x1="526.26" y1="24.7" x2="526.26" y2="26.5" stroke="#000" stroke-width="0.8"/>
<line x1="526.26" y1="94.8" x2="526.26" y2="93" stroke="#000" stroke-width="0.8"/>
<line x1="526.26" y1="165" x2="526.26" y2="163.2" stroke="#000" stroke-width="0.8"/>
<line x1="527.72" y1="24.7" x2="527.72" y2="26.5" stroke="#000" stroke-width="0.8"/>
<line x1="527.72" y1="94.8" x2="527.72" y2="93" stroke="#000" stroke-width="0.8"/>
<line x1="527.72" y1="165" x2="527.72" y2="163.2" stroke="#000" stroke-width="0.8"/>
<line x1="529.18" y1="24.7" x2="529.18" y2="26.5" stroke="#000" stroke-width="0.8"/>
<line x1="529.18" y1="94.8" x2="529.18" y2="93" stroke="#000" stroke-width="0.8"/>
<line x1="529.18" y1="165" x2="529.18" y2="163.2" stroke="#000" stroke-width="0.8"/>
<line x1="530.64" y1="24.7" x2="530.64" y2="26.5" stroke="#000" stroke-width="0.8"/>
<line x1="530.64" y1="94.8" x2="530.64" y2="93" stroke="#000" stroke-width="0.8"/>
<line x1="530.64" y1="165" x2="530.64" y2="163.2" stroke="#000" stroke-width="0.8"/>
<line x1="532.1" y1="24.7" x2="532.1" y2="26.5" stroke="#000" stroke-width="0.8"/>
<line x1="532.1" y1="94.8" x2="532.1" y2="93" stroke="#000" stroke-width="0.8"/>
<line x1="532.1" y1="165" x2="532.1" y2="163.2" stroke="#000" stroke-width="0.8"/>
<line x1="533.56" y1="24.7" x2="533.56" y2="26.5" stroke="#000" stroke-width="0.8"/>
<line x1="533.56" y1="94.8" x2="533.56" y2="93" stroke="#000" stroke-width="0.8"/>
<line x1="533.56" y1="165" x2="533.56" y2="163.2" stroke="#000" stroke-width="0.8"/>
<line x1="535.02" y1="24.7" x2="535.02" y2="26.5" stroke="#000" stroke-width="0.8"/>
<line x1="535.02" y1="94.8" x2="535.02" y2="93" stroke="#000" stroke-width="0.8"/>
<line x1="535.02" y1="165" x2="535.02" y2="163.2" stroke="#000" stroke-width="0.8"/>
<line x1="536.48" y1="24.7" x2="536.48" y2="26.5" stroke="#000" stroke-width="0.8"/>
<line x1="536.48" y1="94.8" x2="536.48" y2="93" stroke="#000" stroke-width="0.8"/>
<line x1="536.48" y1="165" x2="536.48" y2="163.2" stroke="#000" stroke-width="0.8"/>
<line x1="537.94" y1="24.7" x2="537.94" y2="26.5" stroke="#000" stroke-width="0.8"/>
<line x1="537.94" y1="94.8" x2="537.94" y2="93" stroke="#000" stroke-width="0.8"/>
<line x1="537.94" y1="165" x2="537.94" y2="163.2" stroke="#000" stroke-width="0.8"/>
<line x1="539.4" y1="24.7" x2="539.4" y2="26.5" stroke="#000" stroke-width="0.8"/>
<line x1="539.4" y1="94.8" x2="539.4" y2="93" stroke="#000" stroke-width="0.8"/>
<line x1="539.4" y1="165" x2="539.4" y2="163.2" stroke="#000" stroke-width="0.8"/>
<line x1="540.86" y1="24.7" x2="540.86" y2="26.5" stroke="#000" stroke-width="0.8"/>
<line x1="540.86" y1="94.8" x2="540.86" y2="93" stroke="#000" stroke-width="0.8"/>
<line x1="540.86" y1="165" x2="540.86" y2="163.2" stroke="#000" stroke-width="0.8"/>
<line x1="542.32" y1="24.7" x2="542.32" y2="26.5" stroke="#000" stroke-width="0.8"/>
<line x1="542.32" y1="94.8" x2="542.32" y2="93" stroke="#000" stroke-width="0.8"/>
<line x1="542.32" y1="165" x2="542.32" y2="163.2" stroke="#000" stroke-width="0.8"/>
<line x1="543.78" y1="24.7" x2="543.78" y2="26.5" stroke="#000" stroke-width="0.8"/>
<line x1="543.78" y1="94.8" x2="543.78" y2="93" stroke="#000" stroke-width="0.8"/>
<line x1="543.78" y1="165" x2="543.78" y2="163.2" stroke="#000" stroke-width="0.8"/>
<line x1="545.24" y1="24.7" x2="545.24" y2="26.5" stroke="#000" stroke-width="0.8"/>
<line x1="545.24" y1="94.8" x2="545.24" y2="93" stroke="#000" stroke-width="0.8"/>
<line x1="545.24" y1="165" x2="545.24" y2="163.2" stroke="#000" stroke-width="0.8"/>
<line x1="546.7" y1="24.7" x2="546.7" y2="26.5" stroke="#000" stroke-width="0.8"/>
<line x1="546.7" y1="94.8" x2="546.7" y2="93" stroke="#000" stroke-width="0.8"/>
<line x1="546.7" y1="165" x2="546.7" y2="163.2" stroke="#000" stroke-width="0.8"/>
<line x1="548.16" y1="24.7" x2="548.16" y2="26.5" stroke="#000" stroke-width="0.8"/>
<line x1="548.16" y1="94.8" x2="548.16" y2="93" stroke="#000" stroke-width="0.8"/>
<line x1="548.16" y1="165" x2="548.16" y2="163.2" stroke="#000" stroke-width="0.8"/>
<line x1="483.5" y1="165" x2="483.5" y2="163.2" stroke="#000" stroke-width="0.8"/>
<line x1="484.96" y1="165" x2="484.96" y2="163.2" stroke="#000" stroke-width="0.8"/>
<line x1="486.42" y1="165" x2="486.42" y2="163.2" stroke="#000" stroke-width="0.8"/>
<line x1="487.88" y1="165" x2="487.88" y2="163.2" stroke="#000" stroke-width="0.8"/>
<line x1="488.4" y1="24.7" x2="488.4" y2="27.3" stroke="#000" stroke-width="0.9"/>
<line x1="519.2" y1="24.7" x2="519.2" y2="27.3" stroke="#000" stroke-width="0.9"/>
<line x1="544" y1="24.7" x2="544" y2="27.3" stroke="#000" stroke-width="0.9"/>
<line x1="558.4" y1="24.7" x2="558.4" y2="27.3" stroke="#000" stroke-width="0.9"/>
<line x1="564.4" y1="24.7" x2="564.4" y2="27.3" stroke="#000" stroke-width="0.9"/>
<line x1="640.2" y1="24.7" x2="640.2" y2="27.3" stroke="#000" stroke-width="0.9"/>
<line x1="488.3" y1="94.8" x2="488.3" y2="92.2" stroke="#000" stroke-width="0.9"/>
<line x1="519.4" y1="94.8" x2="519.4" y2="92.2" stroke="#000" stroke-width="0.9"/>
<line x1="544" y1="94.8" x2="544" y2="92.2" stroke="#000" stroke-width="0.9"/>
<line x1="558.4" y1="94.8" x2="558.4" y2="92.2" stroke="#000" stroke-width="0.9"/>
<line x1="564.4" y1="94.8" x2="564.4" y2="92.2" stroke="#000" stroke-width="0.9"/>
<line x1="640.2" y1="94.8" x2="640.2" y2="92.2" stroke="#000" stroke-width="0.9"/>
<line x1="499.1" y1="165" x2="499.1" y2="162.4" stroke="#000" stroke-width="0.9"/>
<line x1="519.3" y1="165" x2="519.3" y2="162.4" stroke="#000" stroke-width="0.9"/>
<line x1="543.9" y1="165" x2="543.9" y2="162.4" stroke="#000" stroke-width="0.9"/>
<line x1="559" y1="165" x2="559" y2="162.4" stroke="#000" stroke-width="0.9"/>
<line x1="640.2" y1="165" x2="640.2" y2="162.4" stroke="#000" stroke-width="0.9"/>
<line x1="481.5" y1="35.2" x2="484.1" y2="35.2" stroke="#000" stroke-width="0.9"/>
<line x1="481.5" y1="52.6" x2="484.1" y2="52.6" stroke="#000" stroke-width="0.9"/>
<line x1="481.5" y1="70.4" x2="484.1" y2="70.4" stroke="#000" stroke-width="0.9"/>
<line x1="481.5" y1="88.2" x2="484.1" y2="88.2" stroke="#000" stroke-width="0.9"/>
<line x1="481.5" y1="98.5" x2="484.3" y2="98.5" stroke="#000" stroke-width="1"/>
<line x1="481.5" y1="101.5" x2="483.3" y2="101.5" stroke="#000" stroke-width="1"/>
<line x1="481.5" y1="103.5" x2="483.3" y2="103.5" stroke="#000" stroke-width="1"/>
<line x1="481.5" y1="106.5" x2="483.3" y2="106.5" stroke="#000" stroke-width="1"/>
<line x1="481.5" y1="108.5" x2="484.3" y2="108.5" stroke="#000" stroke-width="1"/>
<line x1="481.5" y1="111.5" x2="483.3" y2="111.5" stroke="#000" stroke-width="1"/>
<line x1="481.5" y1="113.5" x2="483.3" y2="113.5" stroke="#000" stroke-width="1"/>
<line x1="481.5" y1="116.5" x2="483.3" y2="116.5" stroke="#000" stroke-width="1"/>
<line x1="481.5" y1="118.5" x2="484.3" y2="118.5" stroke="#000" stroke-width="1"/>
<line x1="481.5" y1="120.5" x2="483.3" y2="120.5" stroke="#000" stroke-width="1"/>
<line x1="481.5" y1="123.5" x2="483.3" y2="123.5" stroke="#000" stroke-width="1"/>
<line x1="481.5" y1="125.5" x2="483.3" y2="125.5" stroke="#000" stroke-width="1"/>
<line x1="481.5" y1="128.5" x2="484.3" y2="128.5" stroke="#000" stroke-width="1"/>
<line x1="481.5" y1="130.5" x2="483.3" y2="130.5" stroke="#000" stroke-width="1"/>
<line x1="481.5" y1="133.5" x2="483.3" y2="133.5" stroke="#000" stroke-width="1"/>
<line x1="481.5" y1="135.5" x2="483.3" y2="135.5" stroke="#000" stroke-width="1"/>
<line x1="481.5" y1="138.5" x2="484.3" y2="138.5" stroke="#000" stroke-width="1"/>
<line x1="481.5" y1="140.5" x2="483.3" y2="140.5" stroke="#000" stroke-width="1"/>
<line x1="481.5" y1="143.5" x2="483.3" y2="143.5" stroke="#000" stroke-width="1"/>
<line x1="481.5" y1="145.5" x2="483.3" y2="145.5" stroke="#000" stroke-width="1"/>
<line x1="481.5" y1="148.5" x2="484.3" y2="148.5" stroke="#000" stroke-width="1"/>
<line x1="481.5" y1="150.5" x2="483.3" y2="150.5" stroke="#000" stroke-width="1"/>
<line x1="481.5" y1="153.5" x2="483.3" y2="153.5" stroke="#000" stroke-width="1"/>
<line x1="481.5" y1="155.5" x2="483.3" y2="155.5" stroke="#000" stroke-width="1"/>
<line x1="481.5" y1="157.5" x2="484.3" y2="157.5" stroke="#000" stroke-width="1"/>
<line x1="655.4" y1="35.4" x2="652.8" y2="35.4" stroke="#000" stroke-width="0.9"/>
<line x1="655.4" y1="52.5" x2="652.8" y2="52.5" stroke="#000" stroke-width="0.9"/>
<line x1="655.4" y1="70.5" x2="652.8" y2="70.5" stroke="#000" stroke-width="0.9"/>
<line x1="655.4" y1="88.4" x2="652.8" y2="88.4" stroke="#000" stroke-width="0.9"/>
<rect x="607.2" y="129.9" width="7.1" height="7.1" fill="#000" stroke="none" stroke-width="1"/>
<polygon points="610.85,142.8 606.2,150.7 615.5,150.7" fill="#ff0000"/>
<text x="623.2" y="137" font-size="10.6" text-anchor="start" stroke="#000" stroke-width="0.15" fill="#000">H &#8869;</text>
<text x="623.2" y="151.2" font-size="10.6" text-anchor="start" stroke="#000" stroke-width="0.15" fill="#000">H</text>
<line x1="632.3" y1="151.3" x2="636.3" y2="144.2" stroke="#000" stroke-width="1.5"/>
<line x1="632.3" y1="151.3" x2="636.3" y2="144.2" stroke="#cfe9cf" stroke-width="0.5"/>
<line x1="635.2" y1="151.3" x2="639.2" y2="144.2" stroke="#000" stroke-width="1.5"/>
<line x1="635.2" y1="151.3" x2="639.2" y2="144.2" stroke="#cfe9cf" stroke-width="0.5"/>
<rect x="481.5" y="24" width="85.5" height="141.7" fill="rgb(118,171,237)" stroke="none" stroke-width="1" fill-opacity="0.245"/>
<rect x="550" y="24" width="106.1" height="141.7" fill="rgb(114,237,122)" stroke="none" stroke-width="1" fill-opacity="0.245"/>
<rect x="569.3" y="23.5" width="6.4" height="2.4" fill="#e4fbe4" stroke="none" stroke-width="1"/>
<line x1="569.5" y1="27.2" x2="572" y2="22.2" stroke="#000" stroke-width="1"/>
<line x1="573" y1="27.2" x2="575.5" y2="22.2" stroke="#000" stroke-width="1"/>
<rect x="569.3" y="93.6" width="6.4" height="2.4" fill="#e4fbe4" stroke="none" stroke-width="1"/>
<line x1="569.5" y1="97.3" x2="572" y2="92.3" stroke="#000" stroke-width="1"/>
<line x1="573" y1="97.3" x2="575.5" y2="92.3" stroke="#000" stroke-width="1"/>
<rect x="570.2" y="163.8" width="6.4" height="2.4" fill="#e4fbe4" stroke="none" stroke-width="1"/>
<line x1="570.4" y1="167.5" x2="572.9" y2="162.5" stroke="#000" stroke-width="1"/>
<line x1="573.9" y1="167.5" x2="576.4" y2="162.5" stroke="#000" stroke-width="1"/>
<text x="450.2" y="33.2" font-size="18" text-anchor="start" font-weight="bold" fill="#000">e</text>
<text x="488.7" y="18.9" font-size="10" text-anchor="middle" stroke="#000" stroke-width="0.15" fill="#000">3</text>
<text x="519.1" y="18.9" font-size="10" text-anchor="middle" stroke="#000" stroke-width="0.15" fill="#000">8</text>
<text x="544" y="18.9" font-size="10" text-anchor="middle" stroke="#000" stroke-width="0.15" fill="#000">13</text>
<text x="558.6" y="18.9" font-size="10" text-anchor="middle" stroke="#000" stroke-width="0.15" fill="#000">16</text>
<text x="640.2" y="18.9" font-size="10" text-anchor="middle" stroke="#000" stroke-width="0.15" fill="#000">65</text>
<text x="565" y="8.3" font-size="10.5" text-anchor="middle" stroke="#000" stroke-width="0.15" fill="#000">Layer number</text>
<text x="658.6" y="38.85" font-size="10" text-anchor="start" stroke="#000" stroke-width="0.15" fill="#000">0.8</text>
<text x="658.6" y="55.95" font-size="10" text-anchor="start" stroke="#000" stroke-width="0.15" fill="#000">0.5</text>
<text x="658.6" y="73.95" font-size="10" text-anchor="start" stroke="#000" stroke-width="0.15" fill="#000">0.3</text>
<text x="658.6" y="91.85" font-size="10" text-anchor="start" stroke="#000" stroke-width="0.15" fill="#000">0.0</text>
<text x="677" y="62" font-size="10.8" text-anchor="middle" stroke="#000" stroke-width="0.15" transform="rotate(90 677 62)" fill="#000">Coercive force (T)</text>
<text x="478.6" y="101.75" font-size="10" text-anchor="end" stroke="#000" stroke-width="0.15" fill="#000">17</text>
<text x="478.6" y="111.65" font-size="10" text-anchor="end" stroke="#000" stroke-width="0.15" fill="#000">6</text>
<text x="478.6" y="121.65" font-size="10" text-anchor="end" stroke="#000" stroke-width="0.15" fill="#000">2</text>
<text x="478.6" y="131.55" font-size="10" text-anchor="end" stroke="#000" stroke-width="0.15" fill="#000">1</text>
<text x="478.6" y="161.55" font-size="10" text-anchor="end" stroke="#000" stroke-width="0.15" fill="#000">0</text>
<text x="481.7" y="176.6" font-size="10" text-anchor="middle" stroke="#000" stroke-width="0.15" fill="#000">1</text>
<text x="519.6" y="176.6" font-size="10" text-anchor="middle" stroke="#000" stroke-width="0.15" fill="#000">5</text>
<text x="543.9" y="176.6" font-size="10" text-anchor="middle" stroke="#000" stroke-width="0.15" fill="#000">8</text>
<text x="559" y="176.6" font-size="10" text-anchor="middle" stroke="#000" stroke-width="0.15" fill="#000">10</text>
<text x="640.2" y="176.6" font-size="10" text-anchor="middle" stroke="#000" stroke-width="0.15" fill="#000">40</text>
<text x="568.8" y="189.3" font-size="10.5" text-anchor="middle" stroke="#000" stroke-width="0.15" fill="#000">Thickness (nm)</text>
<text x="463.4" y="128.7" font-size="10.5" text-anchor="middle" stroke="#000" stroke-width="0.15" transform="rotate(-90 463.4 128.7)" fill="#000">Remanence (&#956;emu/mm<tspan dy="-4" font-size="7">2</tspan><tspan dy="4">)</tspan></text>
<polyline points="491.3,305.81 510.73,300.96 530.16,302.27 549.59,306.84 569.02,311.6 588.45,317.29 607.88,320.93 627.31,325.97 646.74,323.45" fill="none" stroke="#ff0000" stroke-width="3" stroke-linejoin="round" stroke-linecap="round"/>
<polyline points="491.3,305.81 510.73,316.92 530.16,315.61 549.59,305.44 569.02,256.74 588.45,220.63 607.88,210.18 627.31,216.25 646.74,217.65" fill="none" stroke="#0000ff" stroke-width="3" stroke-linejoin="round" stroke-linecap="round"/>
<rect x="482.1" y="197.5" width="173.1" height="138.2" fill="none" stroke="#000" stroke-width="1.6"/>
<line x1="482.1" y1="331.29" x2="483.9" y2="331.29" stroke="#000" stroke-width="1"/>
<line x1="482.1" y1="317.29" x2="484.9" y2="317.29" stroke="#000" stroke-width="1"/>
<line x1="482.1" y1="303.3" x2="483.9" y2="303.3" stroke="#000" stroke-width="1"/>
<line x1="482.1" y1="289.3" x2="484.9" y2="289.3" stroke="#000" stroke-width="1"/>
<line x1="482.1" y1="275.31" x2="483.9" y2="275.31" stroke="#000" stroke-width="1"/>
<line x1="482.1" y1="261.31" x2="484.9" y2="261.31" stroke="#000" stroke-width="1"/>
<line x1="482.1" y1="247.31" x2="483.9" y2="247.31" stroke="#000" stroke-width="1"/>
<line x1="482.1" y1="233.32" x2="484.9" y2="233.32" stroke="#000" stroke-width="1"/>
<line x1="482.1" y1="219.33" x2="483.9" y2="219.33" stroke="#000" stroke-width="1"/>
<line x1="482.1" y1="205.33" x2="484.9" y2="205.33" stroke="#000" stroke-width="1"/>
<line x1="491.3" y1="335.7" x2="491.3" y2="332.9" stroke="#000" stroke-width="1"/>
<line x1="510.73" y1="335.7" x2="510.73" y2="333.9" stroke="#000" stroke-width="1"/>
<line x1="530.16" y1="335.7" x2="530.16" y2="332.9" stroke="#000" stroke-width="1"/>
<line x1="549.59" y1="335.7" x2="549.59" y2="333.9" stroke="#000" stroke-width="1"/>
<line x1="569.02" y1="335.7" x2="569.02" y2="332.9" stroke="#000" stroke-width="1"/>
<line x1="588.45" y1="335.7" x2="588.45" y2="333.9" stroke="#000" stroke-width="1"/>
<line x1="607.88" y1="335.7" x2="607.88" y2="332.9" stroke="#000" stroke-width="1"/>
<line x1="627.31" y1="335.7" x2="627.31" y2="333.9" stroke="#000" stroke-width="1"/>
<line x1="646.74" y1="335.7" x2="646.74" y2="332.9" stroke="#000" stroke-width="1"/>
<rect x="482.1" y="289.3" width="173.9" height="47.2" fill="rgb(71,226,239)" stroke="none" stroke-width="1" fill-opacity="0.245"/>
<line x1="482.2" y1="289.5" x2="655.2" y2="289.5" stroke="#000" stroke-width="1.8" stroke-dasharray="5.2 5"/>
<text x="478.8" y="208.63" font-size="9.2" text-anchor="end" stroke="#000" stroke-width="0.15" fill="#000">9</text>
<text x="478.8" y="236.62" font-size="9.2" text-anchor="end" stroke="#000" stroke-width="0.15" fill="#000">6</text>
<text x="478.8" y="264.61" font-size="9.2" text-anchor="end" stroke="#000" stroke-width="0.15" fill="#000">3</text>
<text x="478.8" y="292.6" font-size="9.2" text-anchor="end" stroke="#000" stroke-width="0.15" fill="#000">0</text>
<text x="478.8" y="320.59" font-size="9.2" text-anchor="end" stroke="#000" stroke-width="0.15" fill="#000">-3</text>
<text x="491.3" y="346.5" font-size="9.2" text-anchor="middle" stroke="#000" stroke-width="0.15" fill="#000">0</text>
<text x="530.16" y="346.5" font-size="9.2" text-anchor="middle" stroke="#000" stroke-width="0.15" fill="#000">2</text>
<text x="569.02" y="346.5" font-size="9.2" text-anchor="middle" stroke="#000" stroke-width="0.15" fill="#000">4</text>
<text x="607.88" y="346.5" font-size="9.2" text-anchor="middle" stroke="#000" stroke-width="0.15" fill="#000">6</text>
<text x="646.74" y="346.5" font-size="9.2" text-anchor="middle" stroke="#000" stroke-width="0.15" fill="#000">8</text>
<text x="567.5" y="356.9" font-size="8.95" text-anchor="middle" stroke="#000" stroke-width="0.15" fill="#000">Initial On-site Coulomb Potential (eV)</text>
<text x="468" y="266.3" font-size="8.7" text-anchor="middle" stroke="#000" stroke-width="0.15" transform="rotate(-90 468 266.3)" fill="#000">MAE (meV/unit cell)</text>
<text x="453.2" y="212" font-size="18" text-anchor="start" font-weight="bold" fill="#000">f</text>
<line x1="491.2" y1="211.1" x2="510.5" y2="211.1" stroke="#0000ff" stroke-width="2.9" stroke-linecap="round"/>
<line x1="491.2" y1="221.4" x2="510.5" y2="221.4" stroke="#ff0000" stroke-width="2.9" stroke-linecap="round"/>
<text x="513.4" y="214.1" font-size="8.8" text-anchor="start" stroke="#000" stroke-width="0.15" fill="#000">Monolayer</text>
<text x="513.4" y="224.8" font-size="8.8" text-anchor="start" stroke="#000" stroke-width="0.15" fill="#000">Bulk</text>
</svg>
</body></html>
